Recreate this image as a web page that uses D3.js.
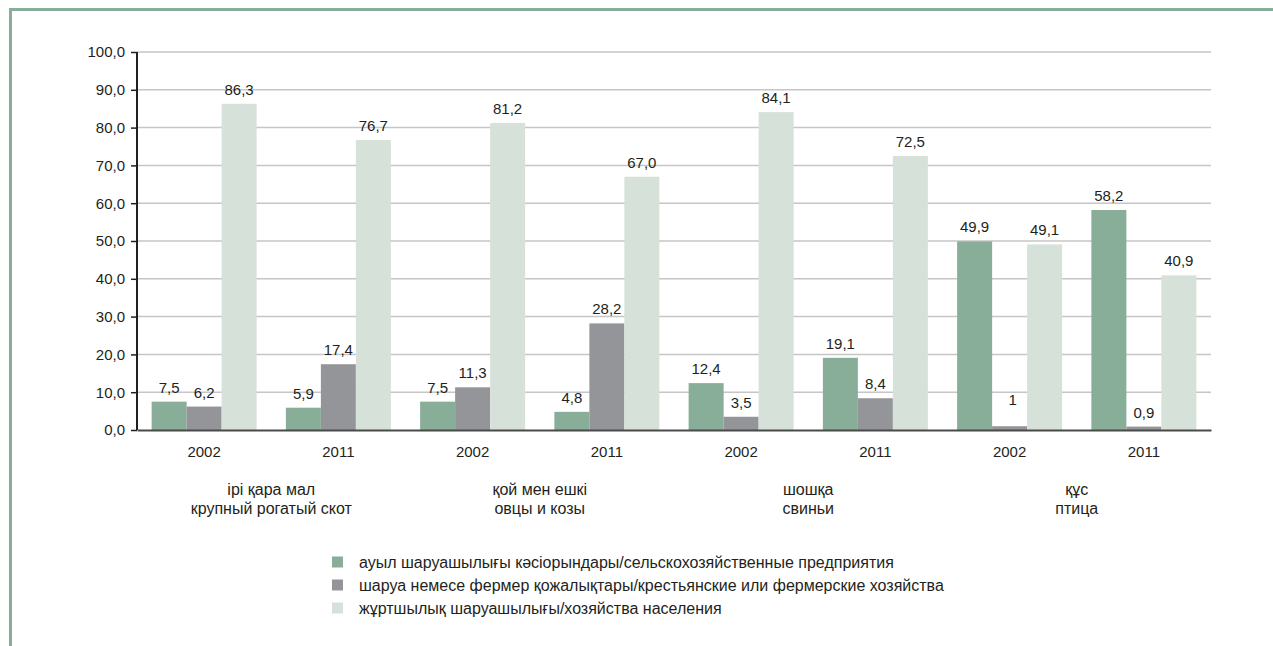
<!DOCTYPE html>
<html>
<head>
<meta charset="utf-8">
<script src="https://cdn.jsdelivr.net/npm/d3@7"></script>
<style>
  html, body { margin: 0; padding: 0; background: #fff; overflow: hidden; }
  svg { display: block; font-family: "Liberation Sans", Arial, sans-serif; }
</style>
</head>
<body>
<svg id="chart" width="1273" height="646" viewBox="0 0 1273 646"></svg>
<script>
// ---- data ----
const years = ["2002", "2011", "2002", "2011", "2002", "2011", "2002", "2011"];
const categoryKz = ["ірі қара мал", "қой мен ешкі", "шошқа", "құс"];
const categoryRu = ["крупный рогатый скот", "овцы и козы", "свиньи", "птица"];
const seriesNames = [
  "ауыл шаруашылығы кәсіорындары/сельскохозяйственные предприятия",
  "шаруа немесе фермер қожалықтары/крестьянские или фермерские хозяйства",
  "жұртшылық шаруашылығы/хозяйства населения"
];
const enterprises = [7.5, 5.9, 7.5, 4.8, 12.4, 19.1, 49.9, 58.2];
const farms       = [6.2, 17.4, 11.3, 28.2, 3.5, 8.4, 1, 0.9];
const households  = [86.3, 76.7, 81.2, 67.0, 84.1, 72.5, 49.1, 40.9];
const valueLabels = [
  ["7,5", "5,9", "7,5", "4,8", "12,4", "19,1", "49,9", "58,2"],
  ["6,2", "17,4", "11,3", "28,2", "3,5", "8,4", "1", "0,9"],
  ["86,3", "76,7", "81,2", "67,0", "84,1", "72,5", "49,1", "40,9"]
];
const yTicks = [0, 10, 20, 30, 40, 50, 60, 70, 80, 90, 100];
const yTickLabels = ["0,0", "10,0", "20,0", "30,0", "40,0", "50,0", "60,0", "70,0", "80,0", "90,0", "100,0"];

// ---- style ----
const colors = ["#88ad98", "#949599", "#d6e1da"];
const textColor = "#231f20";
const numSize = 15;
const txtSize = 16;

const svg = d3.select("#chart");

// frame (green border top + left)
svg.append("path")
  .attr("d", "M10.5,646 L10.5,9.5 L1273,9.5")
  .attr("fill", "none")
  .attr("stroke", "#88ad98")
  .attr("stroke-width", 3);

const mLeft = 137, mRight = 1211, mTop = 52, mBottom = 430;

const x0 = d3.scaleBand().domain(d3.range(years.length)).range([mLeft, mRight]).paddingInner(0).paddingOuter(0);
const innerWidth = 105;
const x1 = d3.scaleBand().domain([0, 1, 2]).range([0, innerWidth]).padding(0);
const y = d3.scaleLinear().domain([0, 100]).range([mBottom, mTop]);

// gridlines
svg.append("g")
  .selectAll("line")
  .data(yTicks.filter(d => d > 0))
  .join("line")
  .attr("x1", mLeft).attr("x2", mRight)
  .attr("y1", d => y(d)).attr("y2", d => y(d))
  .attr("stroke", "#c6c6c6")
  .attr("stroke-width", 1.5);

// y axis
const yAxis = d3.axisLeft(y)
  .tickValues(yTicks)
  .tickFormat((d, i) => yTickLabels[i])
  .tickSize(6)
  .tickPadding(6);
const gy = svg.append("g").attr("transform", `translate(${mLeft},0)`).call(yAxis);
gy.select(".domain").remove();
gy.selectAll(".tick line").attr("stroke", "#231f20").attr("stroke-width", 1.5);
gy.selectAll(".tick text").attr("font-size", numSize).attr("fill", textColor)
  .attr("font-family", "Liberation Sans, Arial, sans-serif");

// bars
const series = [enterprises, farms, households];
const groups = svg.append("g").selectAll("g")
  .data(years.map((yr, i) => i))
  .join("g")
  .attr("transform", i => `translate(${x0(i) + (x0.bandwidth() - innerWidth) / 2},0)`);

groups.selectAll("rect")
  .data(i => series.map((s, k) => ({ k, v: s[i], i })))
  .join("rect")
  .attr("x", d => x1(d.k))
  .attr("width", x1.bandwidth())
  .attr("y", d => y(d.v))
  .attr("height", d => y(0) - y(d.v))
  .attr("fill", d => colors[d.k]);

groups.selectAll("text.val")
  .data(i => series.map((s, k) => ({ k, v: s[i], i })))
  .join("text")
  .attr("class", "val")
  .attr("x", d => x1(d.k) + x1.bandwidth() / 2 + (valueLabels[d.k][d.i] === "1" ? 3 : 0))
  .attr("y", d => y(d.v) - 9 - (valueLabels[d.k][d.i] === "1" ? 12 : 0))
  .attr("text-anchor", "middle")
  .attr("font-size", numSize)
  .attr("fill", textColor)
  .text(d => valueLabels[d.k][d.i]);

// y axis line
svg.append("line")
  .attr("x1", mLeft).attr("x2", mLeft)
  .attr("y1", mTop).attr("y2", mBottom)
  .attr("stroke", "#231f20").attr("stroke-width", 2);

// x axis
const xAxis = d3.axisBottom(x0).tickFormat(i => years[i]).tickSize(0).tickPadding(16);
const gx = svg.append("g").attr("transform", `translate(0,${mBottom})`).call(xAxis);
gx.select(".domain").attr("stroke", "#4a4a4a").attr("stroke-width", 2);
gx.selectAll(".tick text").attr("font-size", numSize).attr("fill", textColor)
  .attr("font-family", "Liberation Sans, Arial, sans-serif");

// category labels (centered under each pair of year groups)
const cat = svg.append("g").selectAll("g")
  .data(categoryKz.map((c, j) => j))
  .join("g")
  .attr("transform", j => `translate(${x0(2 * j) + x0.bandwidth()},0)`);
cat.append("text")
  .attr("y", 495)
  .attr("text-anchor", "middle").attr("font-size", txtSize).attr("fill", textColor)
  .text(j => categoryKz[j]);
cat.append("text")
  .attr("y", 514)
  .attr("text-anchor", "middle").attr("font-size", txtSize).attr("fill", textColor)
  .text(j => categoryRu[j]);

// legend
const legend = svg.append("g").attr("transform", "translate(332,0)");
const li = legend.selectAll("g").data(seriesNames.map((n, k) => k)).join("g")
  .attr("transform", k => `translate(0,${562 + k * 23})`);
li.append("rect").attr("x", 0).attr("y", -5.5).attr("width", 11).attr("height", 11)
  .attr("fill", k => colors[k]);
li.append("text").attr("x", 27).attr("y", 5.5).attr("font-size", txtSize).attr("fill", textColor)
  .text(k => seriesNames[k]);
</script>
</body>
</html>
